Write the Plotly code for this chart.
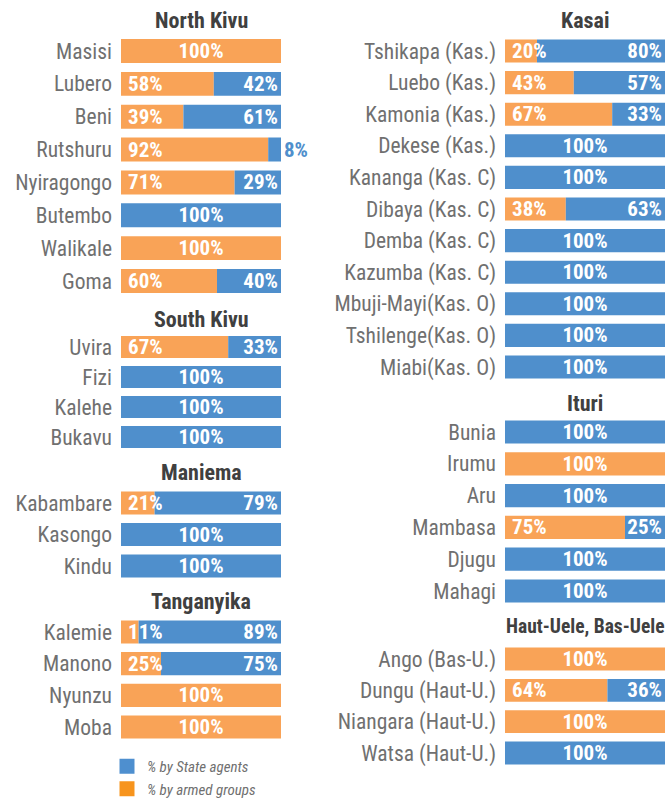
import plotly.graph_objects as go

# ---------------- data ----------------
north_kivu_names = ["Masisi", "Lubero", "Beni", "Rutshuru", "Nyiragongo", "Butembo", "Walikale", "Goma"]
north_kivu_armed = [100, 58, 39, 92, 71, 0, 100, 60]
north_kivu_state = [0, 42, 61, 8, 29, 100, 0, 40]

south_kivu_names = ["Uvira", "Fizi", "Kalehe", "Bukavu"]
south_kivu_armed = [67, 0, 0, 0]
south_kivu_state = [33, 100, 100, 100]

maniema_names = ["Kabambare", "Kasongo", "Kindu"]
maniema_armed = [21, 0, 0]
maniema_state = [79, 100, 100]

tanganyika_names = ["Kalemie", "Manono", "Nyunzu", "Moba"]
tanganyika_armed = [11, 25, 100, 100]
tanganyika_state = [89, 75, 0, 0]

kasai_names = ["Tshikapa (Kas.)", "Luebo (Kas.)", "Kamonia (Kas.)", "Dekese (Kas.)", "Kananga (Kas. C)",
               "Dibaya (Kas. C)", "Demba (Kas. C)", "Kazumba (Kas. C)", "Mbuji-Mayi(Kas. O)",
               "Tshilenge(Kas. O)", "Miabi(Kas. O)"]
kasai_armed = [20, 43, 67, 0, 0, 38, 0, 0, 0, 0, 0]
kasai_state = [80, 57, 33, 100, 100, 63, 100, 100, 100, 100, 100]

ituri_names = ["Bunia", "Irumu", "Aru", "Mambasa", "Djugu", "Mahagi"]
ituri_armed = [0, 100, 0, 75, 0, 0]
ituri_state = [100, 0, 100, 25, 100, 100]

uele_names = ["Ango (Bas-U.)", "Dungu (Haut-U.)", "Niangara (Haut-U.)", "Watsa (Haut-U.)"]
uele_armed = [100, 64, 100, 0]
uele_state = [0, 36, 0, 100]

group_titles = ["North Kivu", "South Kivu", "Maniema", "Tanganyika", "Kasai", "Ituri", "Haut-Uele, Bas-Uele"]
legend_labels = ["% by State agents", "% by armed groups"]

# ---------------- style / layout ----------------
W, H = 666, 798
ORANGE = "#F9A357"
BLUE = "#4F8FCC"
LEG_ORANGE = "#F7941D"
LEG_BLUE = "#4E8FCF"
FONT = "Roboto Condensed, Roboto, sans-serif"


def px(xp):
    return xp / W


def py(yp):
    return 1 - yp / H


groups = [
    # names, armed, state, column, domain top px, bottom px, title y px, title size
    (north_kivu_names, north_kivu_armed, north_kivu_state, "L", 34.6, 297.4, 21, 22),
    (south_kivu_names, south_kivu_armed, south_kivu_state, "L", 332, 452, 319, 22),
    (maniema_names, maniema_armed, maniema_state, "L", 487.2, 581.8, 472, 22),
    (tanganyika_names, tanganyika_armed, tanganyika_state, "L", 616.2, 742.8, 601, 22),
    (kasai_names, kasai_armed, kasai_state, "R", 35.2, 382.8, 21, 22),
    (ituri_names, ituri_armed, ituri_state, "R", 416.1, 606.9, 403, 22),
    (uele_names, uele_armed, uele_state, "R", 643.3, 768.7, 626, 19.5),
]
xdom = {"L": [px(121), px(281)], "R": [px(505), px(665)]}

fig = go.Figure()
annotations = []
layout_axes = {}
BW = 0.73
TXT = dict(color="white", size=21, family=FONT, weight="bold")
TRANSP = dict(color="rgba(0,0,0,0)", line=dict(width=0))

for i, (names, armed, state, col, top, bot, ty, tsize) in enumerate(groups):
    n = i + 1
    xa = "x" if n == 1 else f"x{n}"
    ya = "y" if n == 1 else f"y{n}"
    armed_txt = [f"\u2009{v}%" if 0 < v < 100 else "" for v in armed]
    state_txt = [f"{v}%" if 0 < v < 100 else "" for v in state]
    state_pos = ["outside" if 0 < v < 10 else "inside" for v in state]
    # segment drawn within the 0-100 scale (rounded shares may sum to 101)
    state_seg = [min(s, 100 - a) for a, s in zip(armed, state)]
    full_x = [100 if (a == 100 or s == 100) else None for a, s in zip(armed, state)]
    full_txt = ["100%" if (a == 100 or s == 100) else "" for a, s in zip(armed, state)]

    common = dict(y=names, orientation="h", xaxis=xa, yaxis=ya, width=BW,
                  showlegend=False, hoverinfo="skip", textangle=0, constraintext="none")
    # coloured bars
    fig.add_trace(go.Bar(x=armed, marker=dict(color=ORANGE, line=dict(width=0)), **common))
    fig.add_trace(go.Bar(x=state_seg, base=armed, marker=dict(color=BLUE, line=dict(width=0)), **common))
    # text layers on top
    fig.add_trace(go.Bar(x=armed, marker=TRANSP, text=armed_txt, textposition="inside",
                         insidetextanchor="start", textfont=TXT, cliponaxis=False, **common))
    fig.add_trace(go.Bar(x=state_seg, base=armed, marker=TRANSP, text=state_txt, textposition=state_pos,
                         insidetextanchor="end", cliponaxis=False,
                         insidetextfont=TXT,
                         outsidetextfont=dict(color=BLUE, size=21, family=FONT, weight="bold"),
                         **common))
    fig.add_trace(go.Bar(x=full_x, marker=TRANSP, text=full_txt, textposition="inside",
                         insidetextanchor="middle", textfont=TXT, cliponaxis=False, **common))

    xkey = "xaxis" if n == 1 else f"xaxis{n}"
    ykey = "yaxis" if n == 1 else f"yaxis{n}"
    layout_axes[xkey] = dict(domain=xdom[col], range=[0, 100], visible=False,
                             anchor=ya, fixedrange=True, automargin=False)
    layout_axes[ykey] = dict(domain=[py(bot), py(top)], type="category",
                             autorange="reversed", anchor=xa, showgrid=False,
                             zeroline=False, showline=False, ticks="",
                             ticklabelstandoff=8, automargin=False, fixedrange=True,
                             tickfont=dict(size=21.5, color="#707070", family=FONT))
    annotations.append(dict(
        text=f"<b>{group_titles[i]}</b>", xref="paper", yref="paper",
        x=sum(xdom[col]) / 2, y=py(ty), xanchor="center", yanchor="middle",
        showarrow=False, font=dict(size=tsize, color="#404040", family=FONT)))

# legend-only traces
fig.add_trace(go.Scatter(x=[None], y=[None], name=legend_labels[0], mode="markers",
                         marker=dict(color=LEG_BLUE, symbol="square", size=15),
                         xaxis="x", yaxis="y", showlegend=True))
fig.add_trace(go.Scatter(x=[None], y=[None], name=legend_labels[1], mode="markers",
                         marker=dict(color=LEG_ORANGE, symbol="square", size=15),
                         xaxis="x", yaxis="y", showlegend=True))

fig.update_layout(
    width=W, height=H, margin=dict(l=0, r=0, t=0, b=0, autoexpand=False),
    paper_bgcolor="white", plot_bgcolor="white",
    barmode="overlay",
    font=dict(family=FONT),
    annotations=annotations,
    legend=dict(x=px(107), y=py(750), xanchor="left", yanchor="top",
                font=dict(size=15, color="#707070", family=FONT, style="italic"),
                tracegroupgap=0, itemwidth=30, bgcolor="rgba(0,0,0,0)"),
    **layout_axes,
)

fig.write_html(
    "out.html",
    config={"displayModeBar": False},
    post_script="document.body.style.margin='0';document.body.style.overflow='hidden';",
)
